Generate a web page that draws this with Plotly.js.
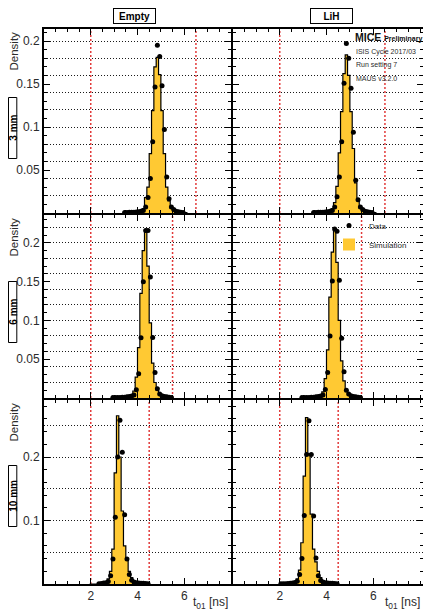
<!DOCTYPE html>
<html>
<head>
<meta charset="utf-8">
<script src="https://cdn.plot.ly/plotly-3.0.1.min.js"></script>
<style>
  html, body { margin: 0; padding: 0; background: #fff; }
  #chart { width: 423px; height: 612px; }
</style>
</head>
<body>
<div id="chart"></div>
<script>
// ---- t01 distributions: TOF0 -> TOF1 time of flight, density per 0.1 ns bin ----

// bin centres (ns), one set per diffuser/collimator row
const binsRow3mm = [3.35, 3.45, 3.55, 3.65, 3.75, 3.85, 3.95, 4.05, 4.15, 4.25, 4.35, 4.45, 4.55, 4.65, 4.75,
                    4.85, 4.95, 5.05, 5.15, 5.25, 5.35, 5.45, 5.55, 5.65, 5.75, 5.85, 5.95, 6.05, 6.15];
const binsRow6mm = [2.85, 2.95, 3.05, 3.15, 3.25, 3.35, 3.45, 3.55, 3.65, 3.75, 3.85, 3.95, 4.05, 4.15,
                    4.25, 4.35, 4.45, 4.55, 4.65, 4.75, 4.85, 4.95, 5.05, 5.15, 5.25, 5.35, 5.45, 5.55];
const binsRow10mm = [1.95, 2.05, 2.15, 2.25, 2.35, 2.45, 2.55, 2.65, 2.75, 2.85, 2.95, 3.05, 3.15, 3.25,
                     3.35, 3.45, 3.55, 3.65, 3.75, 3.85, 3.95, 4.05, 4.15, 4.25, 4.35, 4.45, 4.55];

// 3 mm row
const dataEmpty3mm = [null, 0.0005, 0.0005, 0.0008, 0.001, 0.001, 0.0012, 0.0015, 0.002, 0.003, 0.007, 0.018, 0.040, 0.083, 0.1465,
                      0.195, 0.182, 0.148, 0.097, 0.042, 0.0166, 0.007, 0.004, 0.002, 0.0015, 0.001, 0.0005, null, null];
const simEmpty3mm  = [0, 0.0005, 0.0005, 0.0007, 0.0008, 0.001, 0.001, 0.0015, 0.002, 0.005, 0.018, 0.030, 0.069, 0.119, 0.170,
                      0.181, 0.161, 0.119, 0.069, 0.030, 0.014, 0.006, 0.003, 0.002, 0.001, 0.001, 0.0005, 0.0005, 0];
const dataLiH3mm   = [null, 0.0005, 0.0005, 0.0008, 0.001, 0.001, 0.0012, 0.0015, 0.002, 0.003, 0.007, 0.019, 0.042, 0.083, 0.151,
                      0.197, 0.180, 0.145, 0.094, 0.038, 0.0155, 0.007, 0.004, 0.002, 0.0015, 0.001, 0.0005, null, null];
const simLiH3mm    = [0, 0.0005, 0.0005, 0.0007, 0.0008, 0.001, 0.001, 0.0015, 0.002, 0.005, 0.012, 0.031, 0.070, 0.118, 0.162,
                      0.184, 0.160, 0.118, 0.075, 0.035, 0.015, 0.006, 0.003, 0.002, 0.001, 0.001, 0.0005, 0.0005, 0];

// 6 mm row
const dataEmpty6mm = [null, 0.0005, 0.0005, 0.0006, 0.0008, 0.001, 0.001, 0.0015, 0.002, 0.0025, 0.004, 0.0107, 0.0314, 0.0778,
                      0.150, 0.216, 0.216, 0.156, 0.078, 0.033, 0.012, 0.005, 0.003, 0.002, 0.0015, 0.001, 0.0005, null];
const simEmpty6mm  = [0, 0.0005, 0.0005, 0.0006, 0.0008, 0.001, 0.001, 0.0015, 0.002, 0.003, 0.009, 0.027, 0.065, 0.135,
                      0.190, 0.216, 0.170, 0.097, 0.045, 0.020, 0.010, 0.005, 0.003, 0.002, 0.0015, 0.001, 0.0005, 0];
const dataLiH6mm   = [null, 0.0005, 0.0005, 0.0006, 0.0008, 0.001, 0.001, 0.0015, 0.002, 0.0025, 0.004, 0.011, 0.033, 0.080,
                      0.151, 0.218, 0.215, 0.152, 0.077, 0.034, 0.010, 0.005, 0.003, 0.002, 0.0015, 0.001, 0.0005, null];
const simLiH6mm    = [0, 0.0005, 0.0005, 0.0006, 0.0008, 0.001, 0.001, 0.0015, 0.002, 0.003, 0.008, 0.025, 0.062, 0.130,
                      0.188, 0.218, 0.175, 0.100, 0.048, 0.022, 0.010, 0.005, 0.003, 0.002, 0.0015, 0.001, 0.0005, 0];

// 10 mm row
const dataEmpty10mm = [null, null, null, null, 0.0005, 0.0008, 0.0015, 0.002, 0.004, 0.013, 0.0395, 0.105, 0.200, 0.258,
                       0.2075, 0.109, 0.0395, 0.0148, 0.006, 0.003, 0.002, 0.0015, 0.001, 0.001, 0.0008, 0.0005, null];
const simEmpty10mm  = [0, 0, 0, 0, 0.0005, 0.001, 0.0015, 0.003, 0.008, 0.020, 0.055, 0.175, 0.265, 0.200,
                       0.115, 0.060, 0.040, 0.020, 0.010, 0.005, 0.003, 0.002, 0.0015, 0.001, 0.0008, 0.0005, 0];
const dataLiH10mm   = [null, 0.0005, 0.0005, 0.0005, 0.0008, 0.001, 0.0015, 0.0025, 0.0044, 0.0148, 0.040, 0.108, 0.204, 0.257,
                       0.204, 0.107, 0.041, 0.013, 0.0054, 0.003, 0.002, 0.0015, 0.001, 0.001, 0.0008, 0.0005, null];
const simLiH10mm    = [0, 0, 0, 0, 0.0005, 0.0005, 0.001, 0.003, 0.008, 0.022, 0.065, 0.170, 0.262, 0.205,
                       0.110, 0.055, 0.035, 0.020, 0.010, 0.005, 0.003, 0.002, 0.0015, 0.001, 0.0008, 0.0005, 0];

// t01 selection window per row (ns)
const cutLow  = [2, 2, 2];
const cutHigh = [6.5, 5.5, 4.5];

// tick labels
const xTickVals = [2, 4, 6];
const yTickVals = [[0.05, 0.1, 0.15, 0.2], [0.05, 0.1, 0.15, 0.2], [0.1, 0.2]];

const columnLabels = ['Empty', 'LiH'];
const rowLabels = ['3 mm', '6 mm', '10 mm'];
const infoLines = ['ISIS Cycle 2017/03', 'Run setting 7', 'MAUS v3.2.0'];

// ---- panel grid: [row][column] ----
const panels = [
  [{ bins: binsRow3mm,  data: dataEmpty3mm,  sim: simEmpty3mm  }, { bins: binsRow3mm,  data: dataLiH3mm,  sim: simLiH3mm  }],
  [{ bins: binsRow6mm,  data: dataEmpty6mm,  sim: simEmpty6mm  }, { bins: binsRow6mm,  data: dataLiH6mm,  sim: simLiH6mm  }],
  [{ bins: binsRow10mm, data: dataEmpty10mm, sim: simEmpty10mm }, { bins: binsRow10mm, data: dataLiH10mm, sim: simLiH10mm }]
];

// ---- geometry & style ----
const W = 423, H = 612;
const colEdges = [[44, 231], [233, 423]];
const rowEdges = [[29, 213], [215, 398], [400, 584]];
const pxPerNs = (231 - 44) / 8;
const yTop       = [0.214, 0.236, 0.2898];
const yMinorStep = [0.01, 0.01, 0.02];
const yGridStep  = [0.02, 0.02, 0.05];

const FONT = 'Liberation Sans, Arial, Helvetica, sans-serif';
const TEXT = '#2b2b2b';
const SIM_FILL = '#ffc933';
const CUT_COLOR = '#e23b3b';

const layout = {
  width: W, height: H,
  margin: { l: 0, r: 0, t: 0, b: 0 },
  paper_bgcolor: '#fff', plot_bgcolor: '#fff',
  bargap: 0,
  showlegend: true,
  font: { family: FONT, color: TEXT },
  legend: {
    x: 329 / W, y: 1 - 211 / H, xanchor: 'left', yanchor: 'top',
    font: { family: FONT, size: 8, color: TEXT },
    bgcolor: 'rgba(0,0,0,0)', borderwidth: 0, itemwidth: 30, traceorder: 'normal'
  },
  shapes: [], annotations: []
};
const traces = [];

for (let r = 0; r < 3; r++) {
  for (let c = 0; c < 2; c++) {
    const n = r * 2 + c + 1;
    const sfx = n === 1 ? '' : String(n);
    const xid = 'x' + sfx, yid = 'y' + sfx, yoid = 'y' + (n + 6);
    const p = panels[r][c];
    const tickfont = { family: FONT, size: 12, color: TEXT };

    layout['xaxis' + sfx] = {
      domain: [colEdges[c][0] / W, colEdges[c][1] / W],
      range: [0, (colEdges[c][1] - colEdges[c][0]) / pxPerNs],
      anchor: yid, showline: true, linewidth: 2, linecolor: '#000', mirror: 'ticks',
      ticks: 'inside', ticklen: 6, tickwidth: 1, tickcolor: '#000',
      tickmode: 'array', tickvals: xTickVals,
      minor: { tickmode: 'linear', tick0: 0, dtick: 0.5, ticks: 'inside', ticklen: 3, tickcolor: '#000', showgrid: false },
      showgrid: false, zeroline: false,
      showticklabels: r === 2, tickfont: tickfont,
      fixedrange: true
    };
    // main y axis: frame + horizontal dotted grid
    layout['yaxis' + sfx] = {
      domain: [1 - rowEdges[r][1] / H, 1 - rowEdges[r][0] / H],
      range: [0, yTop[r]], anchor: xid,
      showline: true, linewidth: 2, linecolor: '#000', mirror: true,
      ticks: '', showticklabels: false,
      tickmode: 'linear', tick0: 0, dtick: yGridStep[r],
      showgrid: true, griddash: '1px,2px', gridcolor: '#1a1a1a', gridwidth: 1,
      zeroline: false, fixedrange: true
    };
    // overlay y axis (carries the data points): ticks and labels
    layout['yaxis' + (n + 6)] = {
      overlaying: yid, anchor: xid, side: 'left',
      range: [0, yTop[r]],
      showline: true, linewidth: 2, linecolor: '#000', mirror: 'ticks',
      ticks: 'inside', ticklen: 6, tickwidth: 1, tickcolor: '#000',
      tickmode: 'array', tickvals: yTickVals[r],
      minor: { tickmode: 'linear', tick0: 0, dtick: yMinorStep[r], ticks: 'inside', ticklen: 3, tickcolor: '#000', showgrid: false },
      showgrid: false, zeroline: false,
      showticklabels: c === 0, tickfont: tickfont,
      fixedrange: true
    };

    const legendPanel = (r === 1 && c === 1);

    traces.push({
      type: 'bar', x: p.bins, y: p.sim, xaxis: xid, yaxis: yid, width: 0.1,
      marker: { color: SIM_FILL, line: { width: 0 } },
      name: 'Simulation', showlegend: legendPanel, legendrank: 2, hoverinfo: 'skip'
    });
    traces.push({
      type: 'scatter', mode: 'lines', x: p.bins, y: p.sim, xaxis: xid, yaxis: yid,
      line: { shape: 'hvh', color: '#000', width: 1.2 },
      showlegend: false, hoverinfo: 'skip'
    });
    traces.push({
      type: 'scatter', mode: 'markers', x: p.bins, y: p.data, xaxis: xid, yaxis: yoid,
      marker: { size: 5, color: '#000' },
      error_x: { type: 'constant', value: 0.05, thickness: 1, width: 0, color: '#000' },
      name: 'Data', showlegend: legendPanel, legendrank: 1, hoverinfo: 'skip'
    });

    [cutLow[r], cutHigh[r]].forEach(t => {
      layout.shapes.push({
        type: 'line', xref: xid, yref: yid + ' domain', x0: t, x1: t, y0: 0, y1: 1,
        line: { color: CUT_COLOR, width: 1.5, dash: '2px,2px' }, layer: 'below'
      });
    });
  }
}

// column headers
columnLabels.forEach((lab, c) => {
  const cx = c === 0 ? 134.3 : 331;
  layout.annotations.push({
    xref: 'paper', yref: 'paper', x: cx / W, y: 1 - 16.2 / H, xanchor: 'center', yanchor: 'middle',
    text: '<b>' + lab + '</b>', showarrow: false,
    font: { family: FONT, size: 10, color: '#000' },
    width: 39, height: 12, borderpad: 1, borderwidth: 1, bordercolor: '#000', bgcolor: '#fff'
  });
});

// row labels and y titles
rowLabels.forEach((lab, r) => {
  const cy = [128, 312, 496][r];
  layout.shapes.push({
    type: 'rect', xref: 'paper', yref: 'paper',
    x0: 8.5 / W, x1: 16.8 / W, y0: 1 - (cy + 30.5) / H, y1: 1 - (cy - 30.5) / H,
    line: { color: '#000', width: 1 }, fillcolor: '#fff', layer: 'above'
  });
  layout.annotations.push({
    xref: 'paper', yref: 'paper', x: 12.7 / W, y: 1 - cy / H, xanchor: 'center', yanchor: 'middle',
    text: '<b>' + lab + '</b>', textangle: -90, showarrow: false,
    font: { family: FONT, size: 10, color: '#000' }
  });
  layout.annotations.push({
    xref: 'paper', yref: 'paper', x: 13 / W, y: 1 - (rowEdges[r][0] + 1) / H, xanchor: 'center', yanchor: 'top',
    text: 'Density', textangle: -90, showarrow: false,
    font: { family: FONT, size: 11.5, color: TEXT }
  });
});

// x titles
colEdges.forEach(e => {
  layout.annotations.push({
    xref: 'paper', yref: 'paper', x: Math.min(e[1] - 1, W) / W, y: 1 - 603 / H, xanchor: 'right', yanchor: 'middle',
    text: 't<sub>01</sub> [ns]', showarrow: false,
    font: { family: FONT, size: 12, color: TEXT }
  });
});

// experiment label
layout.annotations.push({
  xref: 'paper', yref: 'paper', x: 353 / W, y: 1 - 37 / H, xanchor: 'left', yanchor: 'middle',
  text: "<b>MICE</b> <span style='font-size:7px'><b>Preliminary</b></span>", showarrow: false,
  font: { family: FONT, size: 10.5, color: '#111' }
});
infoLines.forEach((t, k) => {
  layout.annotations.push({
    xref: 'paper', yref: 'paper', x: 354 / W, y: 1 - (51.7 + 13.3 * k) / H, xanchor: 'left', yanchor: 'middle',
    text: t, showarrow: false, font: { family: FONT, size: 7, color: TEXT }
  });
});

Plotly.newPlot('chart', traces, layout, { displayModeBar: false, staticPlot: true });
</script>
</body>
</html>
